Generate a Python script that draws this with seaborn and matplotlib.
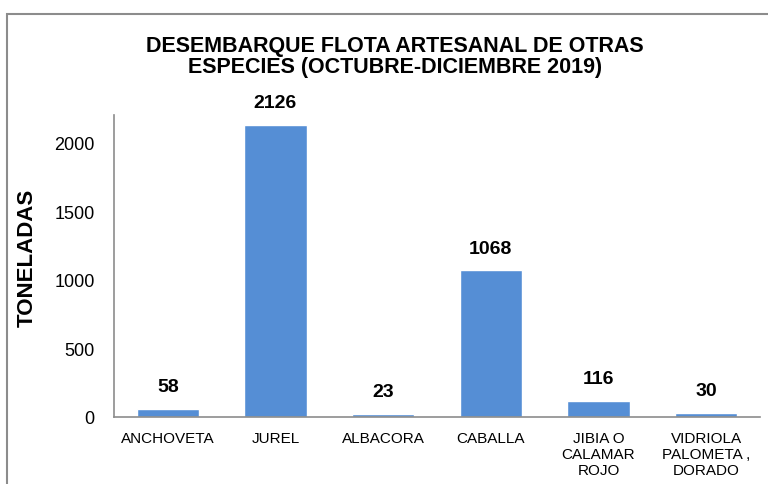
import pandas as pd
import seaborn as sns
import matplotlib.pyplot as plt
from matplotlib.patches import Rectangle

especies = ['ANCHOVETA', 'JUREL', 'ALBACORA', 'CABALLA', 'JIBIA O\nCALAMAR\nROJO', 'VIDRIOLA\nPALOMETA ,\nDORADO']
toneladas = [58, 2126, 23, 1068, 116, 30]
yticks = [0, 500, 1000, 1500, 2000]

df = pd.DataFrame({'especie': especies, 'toneladas': toneladas})

sns.set_style('white')
plt.rcParams['font.family'] = ['Liberation Sans', 'DejaVu Sans']
plt.rcParams['text.color'] = 'black'
plt.rcParams['xtick.color'] = 'black'
plt.rcParams['ytick.color'] = 'black'
plt.rcParams['axes.labelcolor'] = 'black'

fig = plt.figure(figsize=(7.68, 4.85), dpi=100)
fig.patches.append(Rectangle((7 / 768, -0.1), 1.2, 1.1 - 15 / 485, transform=fig.transFigure,
                             fill=False, edgecolor='#8c8c8c', linewidth=1.5))
ax = fig.add_axes([114 / 768, 1 - 418 / 485, 646 / 768, 302 / 485])

sns.barplot(x='especie', y='toneladas', data=df, color='#558ed5', saturation=1, width=0.58, ax=ax)

for i, v in enumerate(toneladas):
    ax.annotate(str(v), (i, v), xytext=(0, 10), textcoords='offset points',
                ha='center', va='bottom', fontsize=14, fontweight='bold')

ax.set_ylim(0, 2200)
ax.set_xlim(-0.5, 5.5)
ax.set_yticks(yticks)
ax.tick_params(axis='y', labelsize=13, length=0, pad=14)
ax.tick_params(axis='x', labelsize=11, length=0, pad=10)
ax.set_xlabel('')
ax.set_ylabel('TONELADAS', fontsize=16, fontweight='bold')
ax.yaxis.set_label_coords(-0.118, 0.53)
for s in ['top', 'right']:
    ax.spines[s].set_visible(False)
for s in ['left', 'bottom']:
    ax.spines[s].set_color('#8c8c8c')
    ax.spines[s].set_linewidth(1.2)

fig.text(395 / 768, 1 - 57 / 485, 'DESEMBARQUE FLOTA ARTESANAL DE OTRAS\nESPECIES (OCTUBRE-DICIEMBRE 2019)',
         ha='center', va='center', fontsize=15.5, fontweight='bold', linespacing=1.05)

fig.savefig('out.png', dpi=100)
